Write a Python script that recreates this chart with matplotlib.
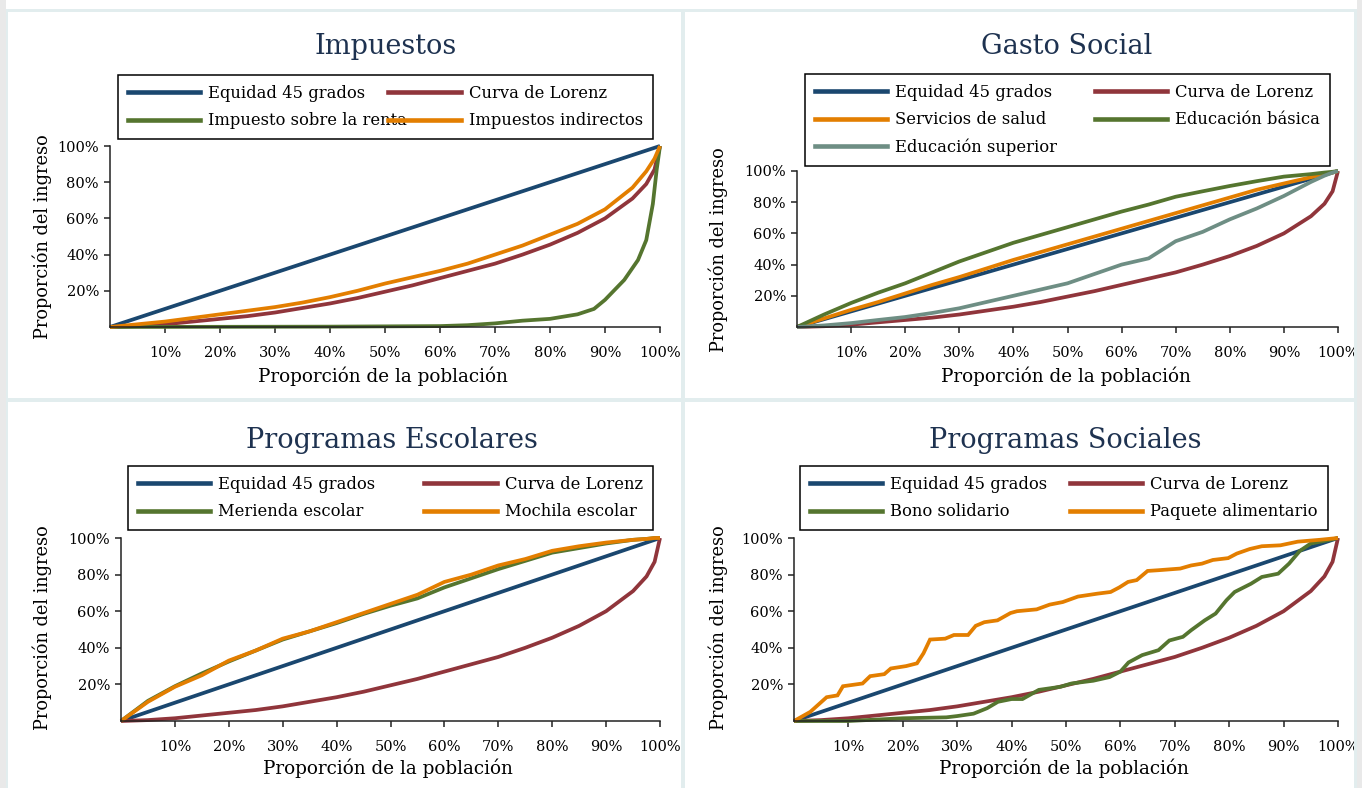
import matplotlib
matplotlib.use("Agg")
import matplotlib.pyplot as plt
from matplotlib.patches import Rectangle
from matplotlib.lines import Line2D

plt.rcParams["font.family"] = ["DejaVu Serif"]

W, H = 1362, 788

# Stata s2color palette
NAVY = "#1a476f"
MAROON = "#90353b"
GREEN = "#55752f"
ORANGE = "#e37e00"
TEAL = "#6e8e84"
TITLE_C = "#1e3250"
SEP_C = "#e2edee"

# population share (%) shared by most curves
pob = [0, 5, 10, 15, 20, 25, 30, 35, 40, 45, 50, 55, 60, 65, 70, 75, 80, 85, 90, 95, 97.5, 99, 100]
equidad = [0, 5, 10, 15, 20, 25, 30, 35, 40, 45, 50, 55, 60, 65, 70, 75, 80, 85, 90, 95, 97.5, 99, 100]
lorenz = [0, 0.5, 1.5, 3, 4.5, 6, 8, 10.5, 13, 16, 19.5, 23, 27, 31, 35, 40, 45.5, 52, 60, 71, 79, 87, 100]

# Impuestos
imp_indirectos = [0, 1.5, 3, 5, 7, 9, 11, 13.5, 16.5, 20, 24, 27.5, 31, 35, 40, 45, 51, 57, 65, 77, 86, 93, 100]
pob_renta = [0, 40, 60, 65, 70, 75, 80, 85, 88, 90, 93.5, 96, 97.5, 98.7, 99.4, 100]
imp_renta = [0, 0.2, 0.5, 1, 2, 3.5, 4.5, 7, 10, 15, 26, 37, 48, 68, 87, 100]

# Gasto Social
serv_salud = [0, 5.5, 11, 16, 21.5, 27, 32, 37.5, 43, 48, 53, 58, 63, 68, 73, 78, 83, 88, 92, 96, 98, 99, 100]
edu_basica = [0, 8, 15.4, 22, 28, 35, 42, 48, 54, 59, 64, 69, 74, 78.5, 83.5, 87, 90.4, 93.5, 96.4, 98, 99, 99.5, 100]
edu_superior = [0, 1, 2.5, 4.5, 6.4, 9, 12, 16, 20, 24, 28, 34, 40, 44, 55, 61, 69, 76, 84, 93, 97, 99, 100]

# Programas Escolares
merienda = [0, 11, 19, 26, 32.5, 38.5, 44.5, 49, 53.5, 58.5, 63, 67, 73, 78, 83, 87.5, 92, 94.5, 97, 99, 99.5, 100, 100]
mochila = [0, 10.5, 18.7, 25, 33, 38.5, 45, 49, 54, 59, 64, 69, 76, 80, 85, 88.5, 93, 95.5, 97.5, 99, 99.5, 100, 100]

# Programas Sociales
pob_paquete = [0, 3, 6, 8, 9, 12.6, 14, 16.6, 17.8, 20.6, 22.6, 23.8, 25, 27.8, 29.4, 32, 33.4, 35, 37.4,
               39.8, 41, 44.6, 47, 49.4, 52.2, 55.8, 58.2, 59.8, 61.4, 63, 65, 67, 71, 73, 75, 77, 79.8,
               81.4, 83.8, 86, 89.4, 92.6, 96.6, 100]
paquete = [0, 5, 13, 14, 19, 20.5, 24.5, 25.6, 28.7, 30, 31.5, 37, 44.5, 45, 47, 47, 52, 54, 55,
           59, 60, 61, 63.6, 65, 68, 69.6, 70.5, 73, 76, 77, 82, 82.4, 83.3, 85, 86, 88, 89,
           91.5, 94, 95.5, 96, 98, 99, 100]
pob_bono = [0, 10, 20, 28, 30, 33, 35.5, 37.5, 40, 42, 45, 49, 51, 55, 58, 60, 61.5, 64, 67, 69, 71.5,
            73, 75.5, 77.5, 79.5, 81, 84, 86, 89, 91, 93, 95, 98, 100]
bono = [0, 0, 1.5, 2, 2.7, 4, 7, 10.5, 12, 12, 17, 18.7, 20.5, 22, 24, 27, 32, 36, 38.7, 44, 46,
        49.6, 55, 58.7, 66, 70.5, 75, 78.7, 80.5, 86, 93, 97, 98.7, 100]

fig = plt.figure(figsize=(W / 100, H / 100), dpi=100)
fig.patch.set_facecolor("white")


def fx(px):
    return px / W


def fy(py):
    return 1 - py / H


def band(x0, y0, x1, y1, color):
    fig.patches.append(Rectangle((fx(x0), fy(y1)), fx(x1 - x0), (y1 - y0) / H,
                                 transform=fig.transFigure, facecolor=color,
                                 edgecolor="none", zorder=0))


# outer strips and panel separators
band(0, 0, 6, H, "#e9e9e9")
band(1357, 0, W, H, "#e9e9e9")
band(6, 9, 1357, 12, SEP_C)
band(6, 12, 8, H, SEP_C)
band(1354, 12, 1357, H, SEP_C)
band(681, 12, 685, H, SEP_C)
band(8, 398, 1354, 402, SEP_C)


def panel(box, title, title_xy, xlabel_xy, ylabel_xy, legend_box, series, order):
    x0, y0, x1, y1 = box
    ax = fig.add_axes([fx(x0), fy(y1), fx(x1 - x0), (y1 - y0) / H])
    ax.set_facecolor("none")
    lines = []
    for label, xs, ys, color in series:
        ln, = ax.plot(xs, ys, color=color, lw=2.7, label=label, clip_on=False,
                      solid_joinstyle="miter", solid_capstyle="butt")
        lines.append(ln)
    ax.set_xlim(0, 100)
    ax.set_ylim(0, 100)
    ax.set_xticks(range(10, 101, 10))
    ax.set_xticklabels([f"{v}%" for v in range(10, 101, 10)])
    ax.set_yticks(range(20, 101, 20))
    ax.set_yticklabels([f"{v}%" for v in range(20, 101, 20)])
    ax.spines["top"].set_visible(False)
    ax.spines["right"].set_visible(False)
    for s in ("left", "bottom"):
        ax.spines[s].set_linewidth(1.1)
        ax.spines[s].set_color("#222222")
    ax.tick_params(direction="out", length=4, width=1.1, color="#222222",
                   labelsize=10.5, pad=4)
    ax.tick_params(axis="x", pad=10)

    fig.text(fx(title_xy[0]), fy(title_xy[1]), title, ha="center", va="center",
             fontsize=19.5, color=TITLE_C)
    fig.text(fx(xlabel_xy[0]), fy(xlabel_xy[1]), "Proporción de la población",
             ha="center", va="center", fontsize=13.2)
    fig.text(fx(ylabel_xy[0]), fy(ylabel_xy[1]), "Proporción del ingreso",
             ha="center", va="center", rotation=90, fontsize=12.8)

    lx0, ly0, lx1, ly1 = legend_box
    handles = [Line2D([], [], color=lines[i].get_color(), lw=3.3) for i in order]
    labels = [lines[i].get_label() for i in order]
    leg = fig.legend(handles, labels, loc="upper left",
                     bbox_to_anchor=(fx(lx0), fy(ly0), fx(lx1 - lx0), 0.0001),
                     mode="expand", ncol=2, fontsize=11.8, frameon=True, fancybox=False,
                     edgecolor="black", framealpha=1, borderaxespad=0,
                     handlelength=4.4, handletextpad=0.5, labelspacing=0.62,
                     borderpad=0.62, columnspacing=1.0)
    leg.get_frame().set_linewidth(1.1)
    return ax


panel((110, 146, 660, 327), "Impuestos", (386, 47), (383, 376), (42, 237), (118, 75, 653, 137),
      [("Equidad 45 grados", pob, equidad, NAVY),
       ("Curva de Lorenz", pob, lorenz, MAROON),
       ("Impuesto sobre la renta", pob_renta, imp_renta, GREEN),
       ("Impuestos indirectos", pob, imp_indirectos, ORANGE)],
      [0, 2, 1, 3])

panel((797, 171, 1338, 327), "Gasto Social", (1067, 47), (1066, 376), (718, 250), (805, 74, 1330, 163),
      [("Equidad 45 grados", pob, equidad, NAVY),
       ("Curva de Lorenz", pob, lorenz, MAROON),
       ("Servicios de salud", pob, serv_salud, ORANGE),
       ("Educación básica", pob, edu_basica, GREEN),
       ("Educación superior", pob, edu_superior, TEAL)],
      [0, 2, 4, 1, 3])

panel((121, 538, 660, 721), "Programas Escolares", (392, 440), (388, 768), (42, 628), (128, 466, 653, 529),
      [("Equidad 45 grados", pob, equidad, NAVY),
       ("Curva de Lorenz", pob, lorenz, MAROON),
       ("Merienda escolar", pob, merienda, GREEN),
       ("Mochila escolar", pob, mochila, ORANGE)],
      [0, 2, 1, 3])

panel((794, 538, 1338, 721), "Programas Sociales", (1065, 440), (1064, 768), (718, 628), (800, 466, 1328, 529),
      [("Equidad 45 grados", pob, equidad, NAVY),
       ("Curva de Lorenz", pob, lorenz, MAROON),
       ("Bono solidario", pob_bono, bono, GREEN),
       ("Paquete alimentario", pob_paquete, paquete, ORANGE)],
      [0, 2, 1, 3])

fig.savefig("out.png", dpi=100)
